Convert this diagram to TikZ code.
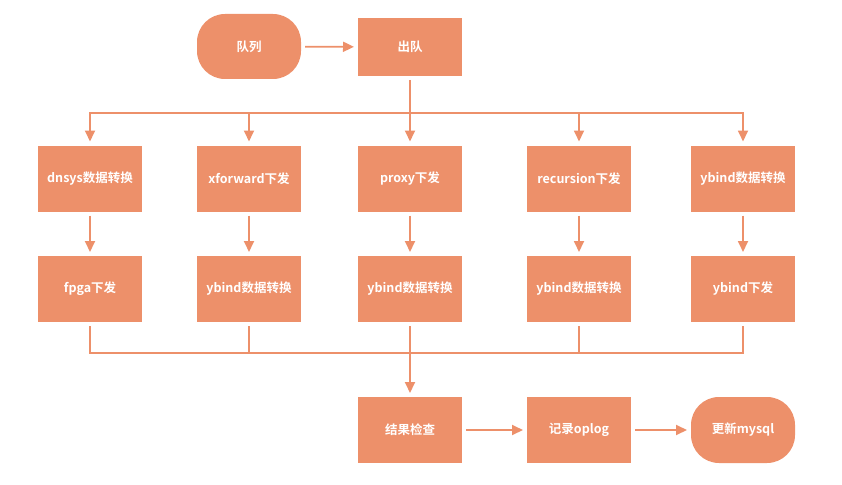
\documentclass[tikz,border=0pt]{standalone}
\usepackage{fontspec}
\setmainfont{Noto Sans CJK SC}[BoldFont=* Bold]
\usepackage{xcolor}
\usetikzlibrary{arrows.meta}
\definecolor{stepfill}{RGB}{237,144,106}
\tikzset{stepbox/.style={draw=none,fill=stepfill,text=white,minimum width=104pt,
        minimum height=66pt,outer sep=4pt,inner sep=0pt,
        font=\fontsize{12.5}{14}\selectfont\bfseries},
    termbox/.style={stepbox,rounded corners=28pt},
    flow/.style={draw=stepfill,line width=1.8pt},
    arrowflow/.style={flow,-{Triangle[length=11pt,width=10pt]}}}

\begin{document}
\begin{tikzpicture}[x=1pt,y=-1pt]
    \useasboundingbox (0,0) rectangle (842,484);
    % top
    \node[termbox,minimum height=65pt] (queue) at (249,46.5) {队列};
    \node[stepbox,minimum height=58pt] (dequeue) at (410,47) {出队};
    % first row
    \node[stepbox] (dnsys) at (90,178.5) {dnsys数据转换};
    \node[stepbox] (xforward) at (249,178.5) {xforward下发};
    \node[stepbox] (proxy) at (410,178.5) {proxy下发};
    \node[stepbox] (recursion) at (579,178.5) {recursion下发};
    \node[stepbox] (ybindconv) at (743,178.5) {ybind数据转换};
    % second row
    \node[stepbox] (fpga) at (90,289) {fpga下发};
    \node[stepbox] (xfybind) at (249,289) {ybind数据转换};
    \node[stepbox] (pxybind) at (410,289) {ybind数据转换};
    \node[stepbox] (rcybind) at (579,289) {ybind数据转换};
    \node[stepbox] (ybindsend) at (743,289) {ybind下发};
    % bottom
    \node[stepbox] (check) at (410,430) {结果检查};
    \node[stepbox] (oplog) at (579,430) {记录oplog};
    \node[termbox] (mysql) at (743,430) {更新mysql};

    \coordinate (split) at (410,113);
    \coordinate (join) at (410,353);

    \draw[arrowflow] (queue) -- (dequeue);
    \draw[flow] (dequeue) -- (split);
    \draw[arrowflow] (split) -| (dnsys);
    \draw[arrowflow] (split) -| (xforward);
    \draw[arrowflow] (split) -- (proxy);
    \draw[arrowflow] (split) -| (recursion);
    \draw[arrowflow] (split) -| (ybindconv);

    \draw[arrowflow] (dnsys) -- (fpga);
    \draw[arrowflow] (xforward) -- (xfybind);
    \draw[arrowflow] (proxy) -- (pxybind);
    \draw[arrowflow] (recursion) -- (rcybind);
    \draw[arrowflow] (ybindconv) -- (ybindsend);

    \draw[flow] (fpga) |- (join);
    \draw[flow] (xfybind) |- (join);
    \draw[flow] (pxybind) -- (join);
    \draw[flow] (rcybind) |- (join);
    \draw[flow] (ybindsend) |- (join);
    \draw[arrowflow] (join) -- (check);

    \draw[arrowflow] (check) -- (oplog);
    \draw[arrowflow] (oplog) -- (mysql);
\end{tikzpicture}
\end{document}
